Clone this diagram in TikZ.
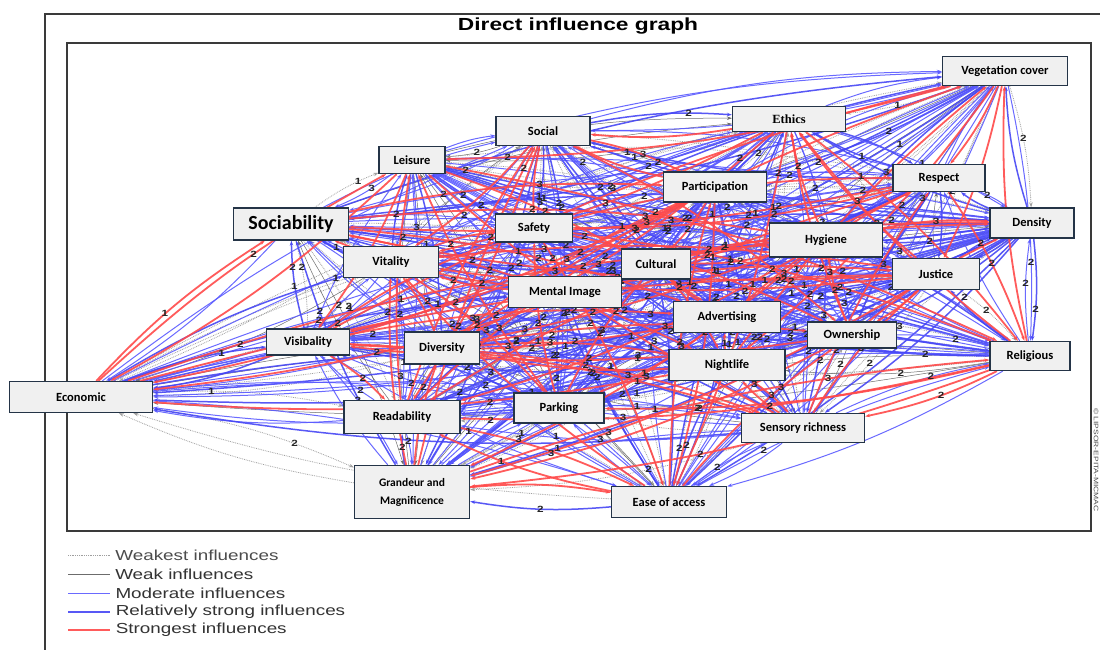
\documentclass[tikz,border=0pt]{standalone}
\usepackage{fontspec}
\setmainfont{Carlito}
\newfontfamily\chartfont[FakeStretch=1.3]{Liberation Sans}
\newfontfamily\serifbox{Liberation Serif}
\usetikzlibrary{arrows.meta}

\definecolor{boxfill}{HTML}{F0F0F0}
\definecolor{boxline}{HTML}{243447}
\definecolor{modblue}{HTML}{5A5AFF}
\definecolor{strblue}{HTML}{4646F5}
\definecolor{hotred}{HTML}{FF4A4A}
\definecolor{framegray}{HTML}{3A3A3A}

\pgfdeclarelayer{paper}
\pgfdeclarelayer{links}
\pgfsetlayers{paper,links,main}

\def\factorlist{veg,eth,soc,lei,par,res,sob,saf,den,hyg,vit,cul,jus,men,adv,own,vis,div,rel,nig,eco,rea,pkg,sen,gra,eas}

% draw every ordered link whose class index lies in [#1,#2]
\newcommand\linkpass[2]{%
  \foreach \a [count=\i] in \factorlist {
    \foreach \b [count=\j] in \factorlist {
      \ifnum\i=\j\else
        \pgfmathtruncatemacro\ehash{mod(\i*17+\j*29+\i*\j*7,23)}
        \ifnum\ehash<#1\else\ifnum\ehash>#2\else
          \ifnum\ehash<4 \def\estyle{strongest}\else
          \ifnum\ehash<13 \def\estyle{moderate}\else
          \ifnum\ehash<17 \def\estyle{rstrong}\else
          \ifnum\ehash<21 \def\estyle{weakest}\else
            \def\estyle{weak}\fi\fi\fi\fi
          \draw[\estyle, tip] (\a) to[bend left=7] (\b);
        \fi\fi
      \fi
    }
  }%
}
% influence values written on the links
\newcommand\valuepass{%
  \foreach \a [count=\i] in \factorlist {
    \foreach \b [count=\j] in \factorlist {
      \ifnum\i=\j\else
        \pgfmathtruncatemacro\eshow{mod(\i*5+\j*3,5)}
        \ifnum\eshow<3
          \pgfmathtruncatemacro\ekind{mod(\i+\j*7,5)}
          \ifcase\ekind \def\eval{1}\or \def\eval{2}\or \def\eval{2}\or \def\eval{3}\or \def\eval{2}\fi
          \pgfmathsetmacro\epos{0.22+0.07*mod(\i+2*\j,8)}
          \path (\a) to[bend left=7] node[val, pos=\epos] {\eval} (\b);
        \fi
      \fi
    }
  }%
}

\begin{document}
\begin{tikzpicture}[x=1pt,y=-1pt,
  factor/.style={draw=boxline, line width=1.3pt, fill=boxfill, inner sep=1pt,
    align=center, font=\bfseries\fontsize{12.5}{14}\selectfont},
  weakest/.style={draw=gray!75, densely dotted, line width=0.8pt},
  weak/.style={draw=gray!85!black, line width=0.5pt},
  moderate/.style={draw=modblue, line width=1pt, draw opacity=0.9},
  rstrong/.style={draw=strblue, line width=1.5pt, draw opacity=0.9},
  strongest/.style={draw=hotred, line width=1.8pt, draw opacity=0.9},
  tip/.style={-{Stealth[length=5pt,width=3.5pt]}},
  val/.style={font=\chartfont\bfseries\fontsize{9}{9}\selectfont, text=black!85, inner sep=0pt},
  legtext/.style={anchor=west, inner sep=0pt, text=black!80,
    font=\chartfont\fontsize{14.5}{15}\selectfont}
]
\useasboundingbox (0,0) rectangle (1100,650);
\begin{pgfonlayer}{paper}
  \fill[white] (0,0) rectangle (1100,650);
\end{pgfonlayer}

% frames
\draw[framegray, line width=1.3pt] (45,650) -- (45,14) -- (1100,14);
\draw[framegray, line width=1.3pt] (67,43) rectangle (1091,531);
\node[font=\chartfont\bfseries\fontsize{17.5}{18}\selectfont, inner sep=0pt] (title) at (578,26) {Direct influence graph};
\node[rotate=-90, font=\chartfont\fontsize{6.5}{7}\selectfont, text=black!70, inner sep=0pt] (credit) at (1096,460) {\textcopyright\ LIPSOR-EPITA-MICMAC};

% factors
\node[factor, minimum width=125pt, minimum height=29pt] (veg) at (1005,71) {Vegetation cover};
\node[factor, minimum width=113pt, minimum height=25pt, font=\serifbox\bfseries\fontsize{12.5}{14}\selectfont] (eth) at (789,119) {Ethics};
\node[factor, minimum width=94pt, minimum height=29pt] (soc) at (543,131) {Social};
\node[factor, minimum width=66pt, minimum height=27pt] (lei) at (412,160) {Leisure};
\node[factor, minimum width=103pt, minimum height=30pt] (par) at (715,187) {Participation};
\node[factor, minimum width=92pt, minimum height=27pt] (res) at (939,178) {Respect};
\node[factor, minimum width=115pt, minimum height=32pt, font=\bfseries\fontsize{20}{22}\selectfont] (sob) at (291,224) {Sociability};
\node[factor, minimum width=77pt, minimum height=28pt] (saf) at (534,228) {Safety};
\node[factor, minimum width=84pt, minimum height=30pt] (den) at (1032,223) {Density};
\node[factor, minimum width=113pt, minimum height=34pt] (hyg) at (826,240) {Hygiene};
\node[factor, minimum width=95pt, minimum height=31pt] (vit) at (391,262) {Vitality};
\node[factor, minimum width=69pt, minimum height=30pt] (cul) at (656,264) {Cultural};
\node[factor, minimum width=87pt, minimum height=31pt] (jus) at (936,274) {Justice};
\node[factor, minimum width=113pt, minimum height=31pt] (men) at (565,292) {Mental Image};
\node[factor, minimum width=107pt, minimum height=31pt] (adv) at (727,317) {Advertising};
\node[factor, minimum width=89pt, minimum height=26pt] (own) at (852,335) {Ownership};
\node[factor, minimum width=83pt, minimum height=26pt] (vis) at (308,342) {Visibality};
\node[factor, minimum width=75pt, minimum height=32pt] (div) at (442,348) {Diversity};
\node[factor, minimum width=80pt, minimum height=29pt] (rel) at (1030,356) {Religious};
\node[factor, minimum width=116pt, minimum height=31pt] (nig) at (727,365) {Nightlife};
\node[factor, minimum width=143pt, minimum height=31pt] (eco) at (81,397) {Economic};
\node[factor, minimum width=116pt, minimum height=33pt] (rea) at (402,417) {Readability};
\node[factor, minimum width=90pt, minimum height=30pt] (pkg) at (559,408) {Parking};
\node[factor, minimum width=123pt, minimum height=29pt] (sen) at (803,428) {Sensory richness};
\node[factor, minimum width=115pt, minimum height=53pt, font=\bfseries\fontsize{11.5}{18}\selectfont] (gra) at (412,492) {Grandeur and\\Magnificence};
\node[factor, minimum width=115pt, minimum height=31pt] (eas) at (669,502) {Ease of access};

% links, weakest first so the strongest ones sit on top, values last
\begin{pgfonlayer}{links}
  \linkpass{17}{22}
  \linkpass{4}{16}
  \linkpass{0}{3}
  \valuepass
\end{pgfonlayer}

% legend
\coordinate (l1) at (68,555);
\coordinate (l2) at (68,574);
\coordinate (l3) at (68,593);
\coordinate (l4) at (68,612);
\coordinate (l5) at (68,630);
\draw[weakest] (l1) -- ++(42,0) node[legtext, text=black!70, right=5pt] (t1) {Weakest influences};
\draw[weak] (l2) -- ++(42,0) node[legtext, right=5pt] (t2) {Weak influences};
\draw[moderate] (l3) -- ++(42,0) node[legtext, right=5pt] (t3) {Moderate influences};
\draw[rstrong] (l4) -- ++(42,0) node[legtext, right=5pt] (t4) {Relatively strong influences};
\draw[strongest] (l5) -- ++(42,0) node[legtext, right=5pt] (t5) {Strongest influences};
\end{tikzpicture}
\end{document}
